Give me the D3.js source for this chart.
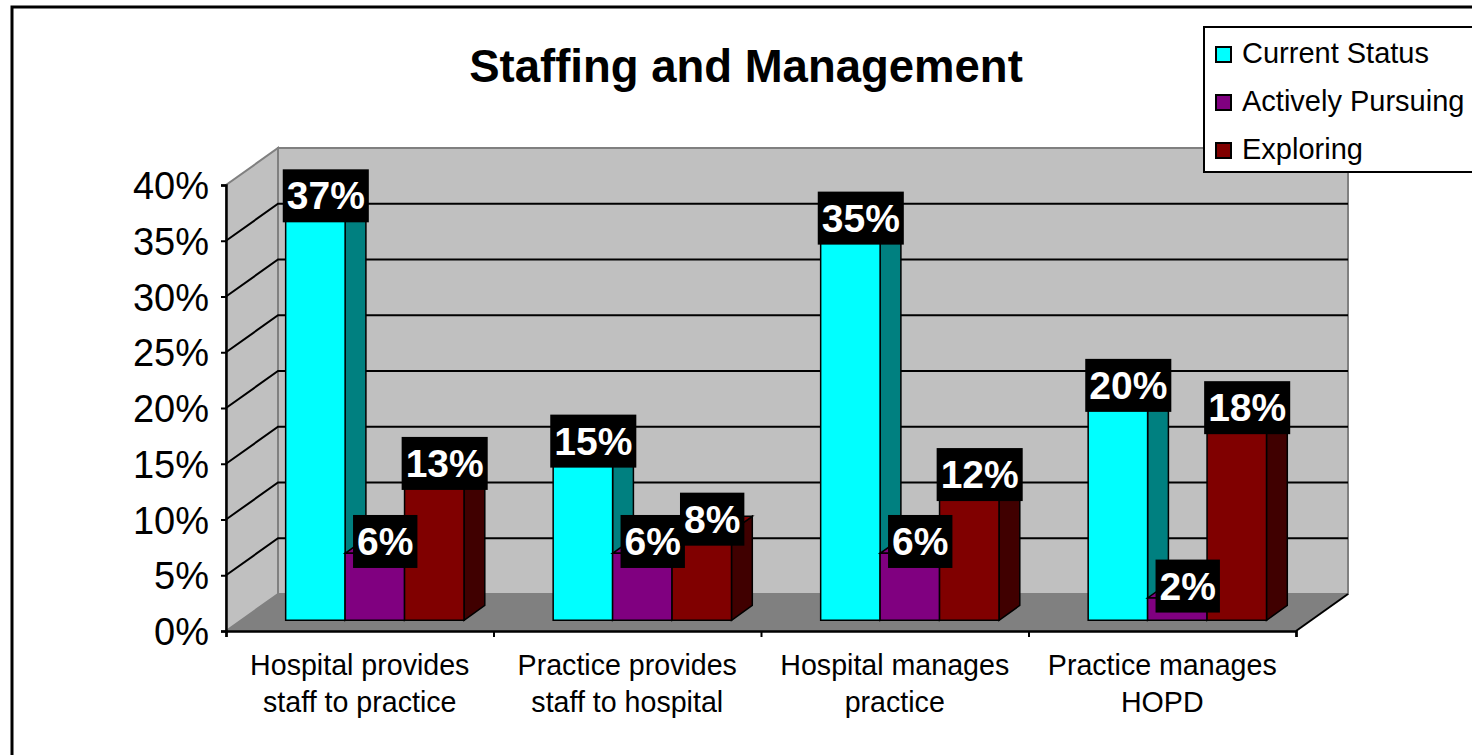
<!DOCTYPE html>
<html>
<head>
<meta charset="utf-8">
<script src="https://cdn.jsdelivr.net/npm/d3@7"></script>
<style>
  body { margin: 0; background: #fff; }
  svg { display: block; font-family: "Liberation Sans", Arial, sans-serif; }
</style>
</head>
<body>
<div id="graph"></div>
<script>
// chart data
var categories = [["Hospital provides", "staff to practice"],
                  ["Practice provides", "staff to hospital"],
                  ["Hospital manages", "practice"],
                  ["Practice manages", "HOPD"]]
var seriesNames = ["Current Status", "Actively Pursuing", "Exploring"]
var currentStatus = [0.37, 0.15, 0.35, 0.20]
var activelyPursuing = [0.06, 0.06, 0.06, 0.02]
var exploring = [0.13, 0.08, 0.12, 0.18]
var yTicks = [0, 0.05, 0.10, 0.15, 0.20, 0.25, 0.30, 0.35, 0.40]

var colors = {front: ["#00FFFF", "#800080", "#800000"],
              side: ["#008080", "#400040", "#400000"]}

var width = 1472, height = 755
var DX = 52, DY = 37           // depth offset of the 3d box
var d0 = 0.29, d1 = 0.69       // bars front / back depth fraction

var svg = d3.select("#graph").append("svg")
    .attr("width", width)
    .attr("height", height)

var x = d3.scaleBand()
    .domain(d3.range(categories.length))
    .range([226, 1296])
    .paddingInner(0).paddingOuter(0)

var xs = d3.scaleBand()
    .domain(d3.range(seriesNames.length))
    .range([0, x.bandwidth()])
    .paddingInner(0).paddingOuter(0.75)

var y = d3.scaleLinear()
    .domain([0, 0.4])
    .range([631, 185])

function P(px, v, d) { return [px + d * DX, y(v) - d * DY] }
function poly(pts) { return "M" + pts.map(function(p) { return p.join(",") }).join("L") + "Z" }

// outer frame
svg.append("rect")
    .attr("x", 12).attr("y", 7)
    .attr("width", width).attr("height", height)
    .attr("fill", "none").attr("stroke", "#000").attr("stroke-width", 3)

// title
svg.append("text")
    .attr("x", 746).attr("y", 82)
    .attr("text-anchor", "middle")
    .attr("font-weight", "bold")
    .attr("font-size", 45.5)
    .text("Staffing and Management")

var x0 = x.range()[0], x1 = x.range()[1]

// back wall
svg.append("path")
    .attr("d", poly([P(x0, 0, 1), P(x1, 0, 1), P(x1, 0.4, 1), P(x0, 0.4, 1)]))
    .attr("fill", "#C0C0C0").attr("stroke", "#808080").attr("stroke-width", 2)

// side wall
svg.append("path")
    .attr("d", poly([P(x0, 0, 0), P(x0, 0, 1), P(x0, 0.4, 1), P(x0, 0.4, 0)]))
    .attr("fill", "#C0C0C0").attr("stroke", "#808080").attr("stroke-width", 2)

// gridlines
var grid = svg.append("g").attr("class", "grid")
yTicks.filter(function(t) { return t > 0 && t < 0.4 }).forEach(function(t) {
    grid.append("path")
        .attr("d", "M" + P(x0, t, 0) + "L" + P(x0, t, 1) + "L" + P(x1, t, 1))
        .attr("fill", "none").attr("stroke", "#000").attr("stroke-width", 2)
})

// floor
svg.append("path")
    .attr("d", poly([P(x0, 0, 0), P(x1, 0, 0), P(x1, 0, 1), P(x0, 0, 1)]))
    .attr("fill", "#808080").attr("stroke", "none")
svg.append("path")
    .attr("d", "M" + P(x1, 0, 0) + "L" + P(x1, 0, 1))
    .attr("stroke", "#000").attr("stroke-width", 2)

// bars
var allSeries = [currentStatus, activelyPursuing, exploring]
var bars = svg.append("g").attr("class", "bars")
categories.forEach(function(c, i) {
    allSeries.forEach(function(vals, s) {
        var v = vals[i]
        var bx0 = x(i) + xs(s), bx1 = bx0 + xs.bandwidth()
        var g = bars.append("g")
        // side
        g.append("path")
            .attr("d", poly([P(bx1, 0, d0), P(bx1, 0, d1), P(bx1, v, d1), P(bx1, v, d0)]))
            .attr("fill", colors.side[s]).attr("stroke", "#000").attr("stroke-width", 1.5)
        // top
        g.append("path")
            .attr("d", poly([P(bx0, v, d0), P(bx1, v, d0), P(bx1, v, d1), P(bx0, v, d1)]))
            .attr("fill", colors.front[s]).attr("stroke", "#000").attr("stroke-width", 1.5)
        // front
        g.append("path")
            .attr("d", poly([P(bx0, 0, d0), P(bx1, 0, d0), P(bx1, v, d0), P(bx0, v, d0)]))
            .attr("fill", colors.front[s]).attr("stroke", "#000").attr("stroke-width", 1.5)
    })
})

// axes
svg.append("g")
    .attr("transform", "translate(" + x0 + ",0)")
    .call(d3.axisLeft(y).tickValues(yTicks).tickSize(5).tickPadding(12)
        .tickFormat(d3.format(".0%")))
    .call(function(g) {
        g.select(".domain").attr("stroke-width", 2.5)
        g.selectAll(".tick line").attr("stroke-width", 2)
        g.selectAll(".tick text").attr("font-size", 38).attr("font-family", null)
            .attr("dy", "0.36em")
    })

svg.append("g")
    .attr("transform", "translate(0," + y(0) + ")")
    .call(d3.axisBottom(d3.scaleLinear().domain([0, 4]).range([x0, x1]))
        .ticks(4).tickSize(6).tickFormat(""))
    .call(function(g) {
        g.select(".domain").attr("stroke-width", 2.5)
        g.selectAll(".tick line").attr("stroke-width", 2)
    })

// category labels
categories.forEach(function(lines, i) {
    var t = svg.append("text")
        .attr("x", x(i) + x.bandwidth() / 2)
        .attr("y", 675)
        .attr("text-anchor", "middle")
        .attr("font-size", 28.6)
    lines.forEach(function(l, k) {
        t.append("tspan").attr("x", x(i) + x.bandwidth() / 2)
            .attr("dy", k == 0 ? 0 : 37).text(l)
    })
})

// value labels
var labels = svg.append("g").attr("class", "labels")
categories.forEach(function(c, i) {
    allSeries.forEach(function(vals, s) {
        var v = vals[i]
        var cx = x(i) + xs(s) + xs.bandwidth() / 2
        var p = P(cx, v, (d0 + d1) / 2)
        var g = labels.append("g").attr("transform", "translate(" + p[0] + "," + (p[1] - 5) + ")")
        var box = g.append("rect").attr("fill", "#000")
        var t = g.append("text")
            .attr("text-anchor", "middle")
            .attr("dy", "0.36em")
            .attr("font-size", 39)
            .attr("font-weight", "bold")
            .attr("fill", "#fff")
            .text(d3.format(".0%")(v))
        var w = t.node().getComputedTextLength() + 8
        box.attr("x", -w / 2).attr("y", -26).attr("width", w).attr("height", 53)
    })
})

// legend
var legend = svg.append("g")
legend.append("rect")
    .attr("x", 1204).attr("y", 27).attr("width", 300).attr("height", 145)
    .attr("fill", "#fff").attr("stroke", "#000").attr("stroke-width", 2)
seriesNames.forEach(function(name, s) {
    var base = 63 + s * 48
    legend.append("rect")
        .attr("x", 1216).attr("y", base - 16).attr("width", 15).attr("height", 15)
        .attr("fill", colors.front[s]).attr("stroke", "#000").attr("stroke-width", 2)
    legend.append("text")
        .attr("x", 1242).attr("y", base)
        .attr("font-size", 29)
        .text(name)
})
</script>
</body>
</html>
